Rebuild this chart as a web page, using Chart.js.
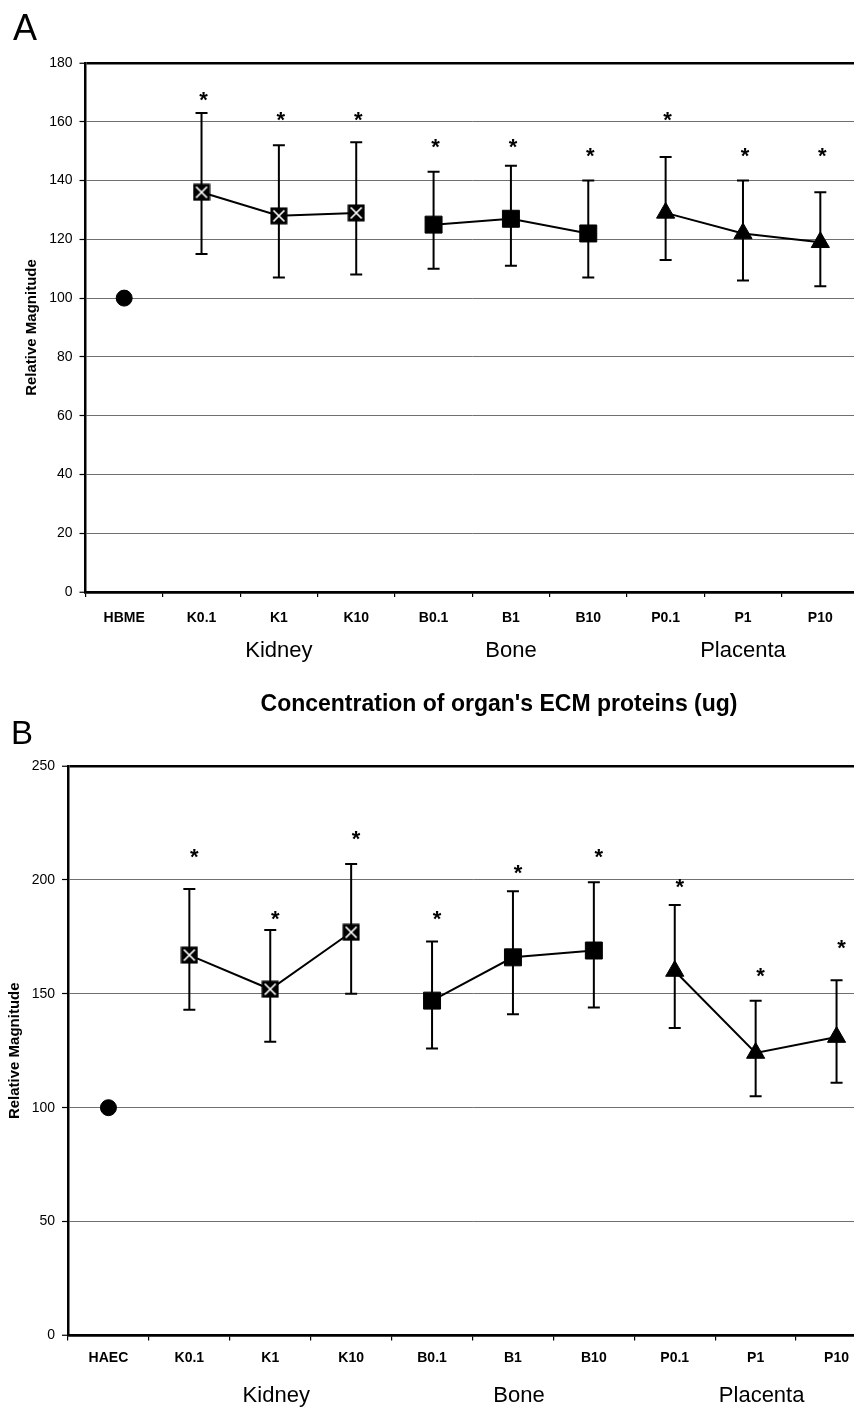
<!DOCTYPE html>
<html>
<head>
<meta charset="utf-8">
<script src="https://cdn.jsdelivr.net/npm/chart.js@4.4.1/dist/chart.umd.min.js"></script>
<style>
html, body { margin:0; padding:0; background:#fff; width:854px; height:1407px; overflow:hidden; position:relative; }
canvas { position:absolute; left:0; }
#cA { top:0; }
#cB { top:700px; }
.lbl { position:absolute; font-family:"Liberation Sans", Arial, sans-serif; line-height:1; color:#000; white-space:nowrap; }
</style>
</head>
<body>
<canvas id="cA" width="872" height="700"></canvas>
<canvas id="cB" width="890" height="707"></canvas>
<div class="lbl" style="left:13px;top:10px;font-size:36px">A</div>
<div class="lbl" style="left:11px;top:716px;font-size:33px">B</div>
<div class="lbl" style="left:499px;top:692px;font-size:23px;font-weight:bold;transform:translateX(-50%)">Concentration of organ's ECM proteins (ug)</div>
<script>
// panel A
const labelsA = ['HBME', 'K0.1', 'K1', 'K10', 'B0.1', 'B1', 'B10', 'P0.1', 'P1', 'P10']
const meanA  = [100, 136, 128, 129, 125, 127, 122, 129, 122, 119]
const upperA = [null, 163, 152, 153, 143, 145, 140, 148, 140, 136]
const lowerA = [null, 115, 107, 108, 110, 111, 107, 113, 106, 104]
const starA  = [null, 169, 162, 162, 153, 153, 150, 162, 150, 150]
const ticksA = [0, 20, 40, 60, 80, 100, 120, 140, 160, 180]

// panel B
const labelsB = ['HAEC', 'K0.1', 'K1', 'K10', 'B0.1', 'B1', 'B10', 'P0.1', 'P1', 'P10']
const meanB  = [100, 167, 152, 177, 147, 166, 169, 160, 124, 131]
const upperB = [null, 196, 178, 207, 173, 195, 199, 189, 147, 156]
const lowerB = [null, 143, 129, 150, 126, 141, 144, 135, 105, 111]
const starB  = [null, 212, 185, 220, 185, 205, 212, 199, 160, 172]
const ticksB = [0, 50, 100, 150, 200, 250]

// organ groups (index into the categories)
const groupNames = ['Kidney', 'Bone', 'Placenta']
const groupIdx = [[1, 2, 3], [4, 5, 6], [7, 8, 9]]

const FONT = '"Liberation Sans", Arial, sans-serif'

// black square with a white X, like the kidney markers
const kidneyMarker = (() => {
  let c = document.createElement('canvas')
  c.width = 18; c.height = 18
  let g = c.getContext('2d')
  g.fillStyle = '#000'
  g.fillRect(0.5, 0.5, 17, 17)
  g.strokeStyle = '#fff'
  g.lineWidth = 1.7
  g.beginPath()
  g.moveTo(3.5, 3.5); g.lineTo(14.5, 14.5)
  g.moveTo(14.5, 3.5); g.lineTo(3.5, 14.5)
  g.stroke()
  return c
})()

const groupStyles = [
  { pointStyle: kidneyMarker, pointRadius: 9 },
  { pointStyle: 'rect', pointRadius: 12 },
  { pointStyle: 'triangle', pointRadius: 10.5 }
]

// error bars, asterisks, group names and y title
const extras = {
  id: 'extras',
  beforeDatasetsDraw(chart, args, o) {
    const { ctx, scales: { x, y } } = chart
    ctx.save()
    ctx.strokeStyle = '#000'
    ctx.lineWidth = 2
    o.upper.forEach((u, i) => {
      if (u == null) return
      let px = x.getPixelForValue(i)
      let top = y.getPixelForValue(u)
      let bot = y.getPixelForValue(o.lower[i])
      ctx.beginPath()
      ctx.moveTo(px, top); ctx.lineTo(px, bot)
      ctx.moveTo(px - 6, top); ctx.lineTo(px + 6, top)
      ctx.moveTo(px - 6, bot); ctx.lineTo(px + 6, bot)
      ctx.stroke()
    })
    ctx.restore()
  },
  afterDraw(chart, args, o) {
    const { ctx, chartArea, scales: { x, y } } = chart
    ctx.save()
    ctx.fillStyle = '#000'
    // asterisks
    ctx.font = 'bold 22px ' + FONT
    ctx.textAlign = 'center'
    ctx.textBaseline = 'alphabetic'
    o.stars.forEach((s, i) => {
      if (s == null) return
      ctx.fillText('*', x.getPixelForValue(i) + o.starShift, y.getPixelForValue(s) + 11.5)
    })
    // organ names under the middle category of each group
    ctx.font = '22px ' + FONT
    groupIdx.forEach((idx, g) => {
      ctx.fillText(groupNames[g], x.getPixelForValue(idx[1]) + o.groupShift, o.groupY)
    })
    // y axis title
    ctx.font = 'bold 15px ' + FONT
    ctx.translate(o.titleX, (chartArea.top + chartArea.bottom) / 2)
    ctx.rotate(-Math.PI / 2)
    ctx.fillText('Relative Magnitude', 0, 0)
    ctx.restore()
  }
}

const makeChart = (id, p) => {
  let datasets = [{
    data: p.labels.map((l, i) => i === 0 ? p.mean[0] : null),
    pointStyle: 'circle',
    pointRadius: 8,
    backgroundColor: '#000',
    borderColor: '#000',
    showLine: false
  }]
  groupIdx.forEach((idx, g) => {
    datasets.push({
      data: p.labels.map((l, i) => idx.includes(i) ? p.mean[i] : null),
      borderColor: '#000',
      backgroundColor: '#000',
      borderWidth: 2,
      pointBorderWidth: 1,
      spanGaps: false,
      ...groupStyles[g]
    })
  })
  let yMax = p.ticks[p.ticks.length - 1]
  let edge = c => c.tick && (c.tick.value === 0 || c.tick.value === yMax)

  return new Chart(document.getElementById(id), {
    type: 'line',
    data: { labels: p.labels, datasets },
    options: {
      responsive: false,
      animation: false,
      events: [],
      layout: { padding: { top: p.top, left: 0, right: 0, bottom: 0 } },
      plugins: {
        legend: { display: false },
        tooltip: { enabled: false },
        extras: {
          upper: p.upper, lower: p.lower, stars: p.stars,
          starShift: p.starShift, groupShift: p.groupShift,
          groupY: p.groupY, titleX: p.titleX
        }
      },
      scales: {
        x: {
          type: 'category',
          offset: true,
          afterFit: s => { s.height = p.xHeight },
          grid: { drawOnChartArea: false, offset: true, tickLength: 5, color: '#000', lineWidth: 1.2 },
          border: { color: '#000', width: 2.5 },
          ticks: { color: '#000', font: { family: FONT, size: 14, weight: 'bold' }, padding: p.xPad, autoSkip: false, maxRotation: 0 }
        },
        y: {
          min: 0,
          max: yMax,
          afterFit: s => { s.width = p.yWidth },
          afterBuildTicks: s => { s.ticks = p.ticks.map(v => ({ value: v })) },
          grid: {
            color: c => edge(c) ? '#000' : '#707070',
            lineWidth: c => edge(c) ? 2.5 : 1,
            tickColor: '#000',
            tickWidth: 1.2,
            tickLength: 6
          },
          border: { display: true, color: '#000', width: 2.5 },
          ticks: { color: '#000', font: { family: FONT, size: 14 }, padding: 7 }
        }
      }
    },
    plugins: [extras]
  })
}

makeChart('cA', {
  labels: labelsA, mean: meanA, upper: upperA, lower: lowerA, stars: starA, ticks: ticksA,
  top: 63, xHeight: 108, yWidth: 85.5, xPad: 13,
  starShift: 2, groupShift: 0, groupY: 657, titleX: 36
})

makeChart('cB', {
  labels: labelsB, mean: meanB, upper: upperB, lower: lowerB, stars: starB, ticks: ticksB,
  top: 66, xHeight: 71.5, yWidth: 68, xPad: 9,
  starShift: 5, groupShift: 6, groupY: 702, titleX: 19
})
</script>
</body>
</html>
